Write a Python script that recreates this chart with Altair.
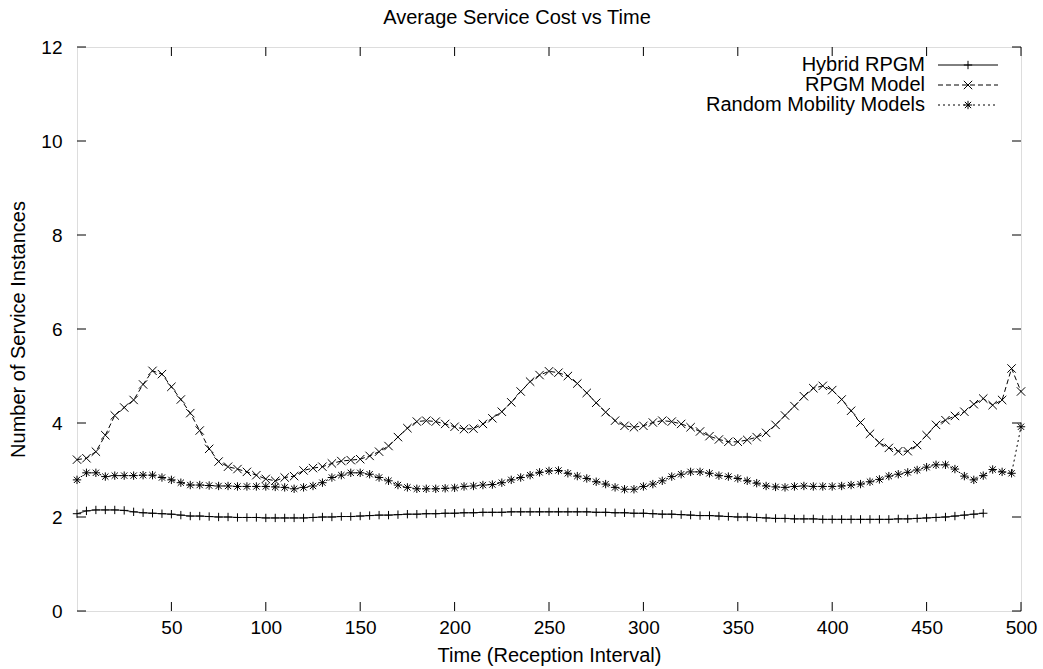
import altair as alt
import pandas as pd

# ---------------- data ----------------
chart_title = "Average Service Cost vs Time"
x_title = "Time (Reception Interval)"
y_title = "Number of Service Instances"
series_names = ["Hybrid RPGM", "RPGM Model", "Random Mobility Models"]

t_full = list(range(0, 501, 5))
t_hybrid = list(range(0, 481, 5))

hybrid = [2.07, 2.13, 2.15, 2.15, 2.15, 2.14, 2.11, 2.09, 2.08, 2.07,
          2.06, 2.04, 2.02, 2.02, 2.01, 2.00, 2.00, 1.99, 1.99, 1.99,
          1.98, 1.98, 1.98, 1.98, 1.98, 1.99, 2.00, 2.00, 2.01, 2.01,
          2.02, 2.03, 2.04, 2.04, 2.05, 2.06, 2.06, 2.07, 2.07, 2.08,
          2.08, 2.09, 2.09, 2.10, 2.10, 2.10, 2.11, 2.11, 2.11, 2.11,
          2.11, 2.11, 2.11, 2.11, 2.11, 2.10, 2.10, 2.09, 2.09, 2.08,
          2.08, 2.07, 2.06, 2.06, 2.05, 2.04, 2.03, 2.03, 2.02, 2.01,
          2.00, 2.00, 1.99, 1.98, 1.97, 1.97, 1.96, 1.96, 1.96, 1.95,
          1.95, 1.95, 1.95, 1.95, 1.95, 1.95, 1.95, 1.96, 1.96, 1.97,
          1.98, 1.99, 2.00, 2.02, 2.04, 2.06, 2.08]

rpgm = [3.22, 3.25, 3.39, 3.74, 4.16, 4.33, 4.49, 4.82, 5.11, 5.04,
        4.77, 4.50, 4.21, 3.84, 3.45, 3.18, 3.07, 3.02, 2.96, 2.89,
        2.81, 2.77, 2.84, 2.87, 2.99, 3.04, 3.07, 3.14, 3.19, 3.21,
        3.23, 3.30, 3.39, 3.51, 3.70, 3.89, 4.03, 4.05, 4.03, 3.98,
        3.92, 3.87, 3.88, 3.98, 4.10, 4.24, 4.44, 4.67, 4.88, 5.02,
        5.10, 5.07, 5.00, 4.84, 4.64, 4.43, 4.23, 4.05, 3.94, 3.91,
        3.94, 4.01, 4.05, 4.03, 3.98, 3.91, 3.82, 3.72, 3.65, 3.60,
        3.60, 3.64, 3.70, 3.79, 3.96, 4.16, 4.36, 4.57, 4.74, 4.79,
        4.70, 4.50, 4.26, 4.01, 3.77, 3.58, 3.47, 3.40, 3.40, 3.53,
        3.74, 3.96, 4.06, 4.15, 4.24, 4.40, 4.52, 4.38, 4.49, 5.16,
        4.67]

random_mob = [2.79, 2.94, 2.94, 2.86, 2.88, 2.88, 2.88, 2.89, 2.89, 2.84,
              2.79, 2.73, 2.68, 2.68, 2.67, 2.66, 2.66, 2.65, 2.65, 2.65,
              2.65, 2.64, 2.63, 2.60, 2.63, 2.66, 2.73, 2.84, 2.89, 2.94,
              2.94, 2.91, 2.84, 2.77, 2.68, 2.63, 2.60, 2.60, 2.60, 2.61,
              2.62, 2.65, 2.66, 2.68, 2.69, 2.73, 2.79, 2.84, 2.89, 2.95,
              2.98, 2.99, 2.93, 2.87, 2.82, 2.75, 2.70, 2.63, 2.59, 2.59,
              2.65, 2.70, 2.77, 2.86, 2.91, 2.96, 2.96, 2.93, 2.88, 2.86,
              2.82, 2.77, 2.72, 2.66, 2.64, 2.63, 2.65, 2.66, 2.65, 2.65,
              2.65, 2.66, 2.68, 2.70, 2.75, 2.80, 2.87, 2.91, 2.95, 3.00,
              3.06, 3.11, 3.11, 3.02, 2.87, 2.79, 2.88, 3.01, 2.96, 2.93,
              3.92]

x_ticks = list(range(50, 501, 50))
y_ticks = list(range(0, 13, 2))

# ---------------- build table ----------------
rows = []
for t, v in zip(t_hybrid, hybrid):
    rows.append({"t": t, "v": v, "s": series_names[0]})
for t, v in zip(t_full, rpgm):
    rows.append({"t": t, "v": v, "s": series_names[1]})
for t, v in zip(t_full, random_mob):
    rows.append({"t": t, "v": v, "s": series_names[2]})
df = pd.DataFrame(rows)

FONT = "Liberation Sans"
FS_TITLE = 20
FS_LABEL = 19
FS_KEY = 20
W, H = 944, 564
TICK = 9
MSIZE = 70

PLUS = "M-1,0L1,0M0,-1L0,1"
XMARK = "M-1,-1L1,1M-1,1L1,-1"
STAR = "M-1,0L1,0M0,-1L0,1M-0.75,-0.75L0.75,0.75M-0.75,0.75L0.75,-0.75"
shapes = [PLUS, XMARK, STAR]
dashes = [[1, 0], [5, 3], [2, 3]]

x_scale = alt.Scale(domain=[0, 500], nice=False, zero=False)
y_scale = alt.Scale(domain=[0, 12], nice=False)

x_axis = alt.Axis(values=x_ticks, title=x_title, ticks=False, tickSize=0, domain=False,
                  grid=False, labelFont=FONT, labelFontSize=FS_LABEL, labelColor="black",
                  labelPadding=7, titleFont=FONT, titleFontSize=FS_TITLE, titleFontWeight="normal",
                  titleColor="black", titleX=W / 2, titleY=44, titleBaseline="middle",
                  labelFlush=False)
y_axis = alt.Axis(values=y_ticks, title=y_title, ticks=False, tickSize=0, domain=False,
                  grid=False, labelFont=FONT, labelFontSize=FS_LABEL, labelColor="black",
                  labelPadding=15, labelBaseline="middle", titleFont=FONT, titleFontSize=FS_TITLE,
                  titleFontWeight="normal", titleColor="black", titleX=-59, titleY=H / 2,
                  titleAngle=-90, titleBaseline="middle", titleAlign="center",
                  labelFlush=False)

X = alt.X("t:Q", scale=x_scale, axis=x_axis)
Y = alt.Y("v:Q", scale=y_scale, axis=y_axis)

lines = alt.Chart(df).mark_line(color="black", strokeWidth=1).encode(
    x=X, y=Y,
    strokeDash=alt.StrokeDash("s:N", scale=alt.Scale(domain=series_names, range=dashes), legend=None),
    detail="s:N",
)
points = alt.Chart(df).mark_point(filled=False, color="black", strokeWidth=1, size=MSIZE, opacity=1).encode(
    x=X, y=Y,
    shape=alt.Shape("s:N", scale=alt.Scale(domain=series_names, range=shapes), legend=None),
)

# inward tick marks on all four sides (gnuplot style)
xt = pd.DataFrame({"t": x_ticks})
yt = pd.DataFrame({"v": y_ticks})
tick_b = alt.Chart(xt).mark_rule(color="black", strokeWidth=1).encode(
    x=X, y=alt.value(H), y2=alt.value(H - TICK))
tick_t = alt.Chart(xt).mark_rule(color="black", strokeWidth=1).encode(
    x=X, y=alt.value(0), y2=alt.value(TICK))
tick_l = alt.Chart(yt).mark_rule(color="black", strokeWidth=1).encode(
    y=Y, x=alt.value(0), x2=alt.value(TICK))
tick_r = alt.Chart(yt).mark_rule(color="black", strokeWidth=1).encode(
    y=Y, x=alt.value(W - TICK), x2=alt.value(W))

# gnuplot-style key: text right-aligned, sample line with marker on the right
legend_layers = []
for i, name in enumerate(series_names):
    yy = 18 + 20 * i
    one = pd.DataFrame({"s": [name]})
    legend_layers.append(
        alt.Chart(one).mark_text(align="right", baseline="middle", font=FONT, fontSize=FS_KEY,
                                 color="black").encode(
            text="s:N", x=alt.value(848), y=alt.value(yy)))
    legend_layers.append(
        alt.Chart(one).mark_rule(color="black", strokeWidth=1, strokeDash=dashes[i]).encode(
            x=alt.value(861), x2=alt.value(921), y=alt.value(yy)))
    legend_layers.append(
        alt.Chart(one).mark_point(shape=shapes[i], filled=False, color="black", size=MSIZE,
                                  strokeWidth=1, opacity=1).encode(
            x=alt.value(891), y=alt.value(yy)))

chart = alt.layer(lines, points, tick_b, tick_t, tick_l, tick_r, *legend_layers).properties(
    width=W, height=H,
    title=alt.TitleParams(chart_title, font=FONT, fontSize=FS_TITLE, fontWeight="normal", color="black",
                          anchor="middle", offset=10, dx=-32),
    autosize=alt.AutoSizeParams(type="none"),
    padding={"left": 77, "top": 47, "right": 22, "bottom": 58},
).configure_view(stroke="black", strokeWidth=1.5).configure(background="white")

chart.save("out.html", embed_options={"renderer": "svg", "actions": False})
